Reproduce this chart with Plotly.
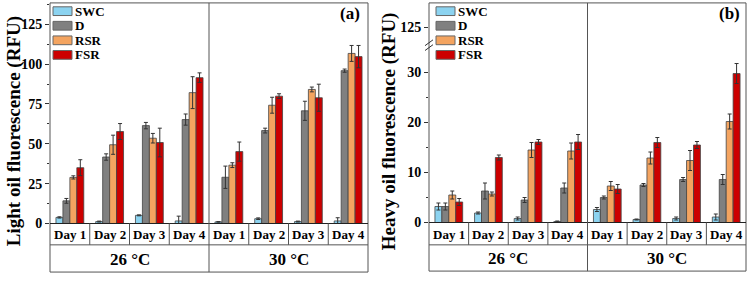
import plotly.graph_objects as go

W, H = 749, 282

# ---------------- data ----------------
temps = ["26 °C", "30 °C"]
days = ["Day 1", "Day 2", "Day 3", "Day 4"]
series = ["SWC", "D", "RSR", "FSR"]
colors = ["#8CD3F0", "#808080", "#F4A460", "#CC0000"]

# Light oil (a): 8 groups = 4 days @26 °C then 4 days @30 °C
light_swc = [3.8, 1.2, 5.1, 1.6, 1.0, 3.0, 1.2, 1.6]
light_d = [14.2, 41.7, 61.4, 65.2, 29.0, 58.3, 70.7, 95.9]
light_rsr = [28.9, 49.4, 53.5, 82.1, 36.6, 74.2, 84.1, 106.7]
light_fsr = [35.0, 57.7, 50.8, 91.5, 45.1, 79.9, 78.9, 104.7]
light_swc_err = [0.4, 0.3, 0.3, 3.0, 0.2, 0.5, 0.3, 2.0]
light_d_err = [1.5, 2.0, 2.0, 3.5, 7.0, 1.5, 6.0, 1.0]
light_rsr_err = [1.0, 6.0, 3.0, 10.0, 1.5, 5.0, 1.5, 5.0]
light_fsr_err = [5.0, 5.0, 9.0, 3.0, 6.0, 1.5, 8.5, 7.0]

# Heavy oil (b)
heavy_swc = [3.2, 1.9, 0.8, 0.2, 2.6, 0.6, 0.8, 1.1]
heavy_d = [3.2, 6.3, 4.5, 6.9, 5.0, 7.5, 8.6, 8.6]
heavy_rsr = [5.5, 5.7, 14.5, 14.3, 7.3, 12.9, 12.4, 20.2]
heavy_fsr = [4.1, 13.0, 16.1, 16.1, 6.7, 16.0, 15.5, 29.8]
heavy_swc_err = [0.7, 0.2, 0.3, 0.1, 0.4, 0.1, 0.3, 0.6]
heavy_d_err = [0.7, 1.6, 0.5, 1.0, 0.3, 0.3, 0.4, 1.0]
heavy_rsr_err = [0.8, 0.4, 1.5, 1.6, 0.9, 1.2, 2.0, 1.5]
heavy_fsr_err = [0.7, 0.5, 0.5, 1.5, 0.9, 1.0, 0.7, 2.0]

light_ticks = [0, 25, 50, 75, 100, 125]
heavy_ticks = [0, 10, 20, 30]
heavy_upper_ticks = [125]

FONT = "Liberation Serif"

def px(x):
    return x / W

def py(y):
    return 1 - y / H

groups = [(t, d) for t in temps for d in days]
xs = list(range(len(groups)))

fig = go.Figure()

light = [(light_swc, light_swc_err), (light_d, light_d_err),
         (light_rsr, light_rsr_err), (light_fsr, light_fsr_err)]
heavy = [(heavy_swc, heavy_swc_err), (heavy_d, heavy_d_err),
         (heavy_rsr, heavy_rsr_err), (heavy_fsr, heavy_fsr_err)]

for (vals, errs), name, col in zip(light, series, colors):
    fig.add_trace(go.Bar(
        x=xs, y=vals, name=name, marker=dict(color=col, line=dict(color="#444", width=0.8)),
        error_y=dict(type="data", array=errs, color="#333", thickness=1, width=2),
        xaxis="x", yaxis="y", offsetgroup=name, showlegend=False))

for (vals, errs), name, col in zip(heavy, series, colors):
    fig.add_trace(go.Bar(
        x=xs, y=vals, name=name, marker=dict(color=col, line=dict(color="#444", width=0.8)),
        error_y=dict(type="data", array=errs, color="#333", thickness=1, width=2),
        xaxis="x2", yaxis="y2", offsetgroup=name, showlegend=False))

# invisible trace so the upper (broken) segment axis is drawn
fig.add_trace(go.Scatter(x=[0], y=[125], mode="markers", marker=dict(opacity=0),
                         xaxis="x2", yaxis="y3", showlegend=False, hoverinfo="skip"))

tickfont = dict(family=FONT, size=14, color="black", weight="bold")
common_x = dict(range=[-0.5, 7.5], showticklabels=False, ticks="", showgrid=False,
                zeroline=False, showline=False)
fig.update_layout(
    width=W, height=H,
    margin=dict(l=0, r=0, t=0, b=0),
    paper_bgcolor="white", plot_bgcolor="white",
    barmode="group", bargap=0.3, bargroupgap=0,
    xaxis=dict(domain=[px(50), px(368)], anchor="y", **common_x),
    yaxis=dict(domain=[py(230), py(3)], range=[0, 138.4], tickvals=light_ticks,
               ticks="outside", ticklen=4, tickcolor="#333", tickfont=tickfont,
               showgrid=False, zeroline=False, showline=False, anchor="x",
               minor=dict(dtick=12.5, ticks="outside", ticklen=2, tickcolor="#333")),
    xaxis2=dict(domain=[px(429), px(746)], anchor="y2", **common_x),
    yaxis2=dict(domain=[py(229), py(52)], range=[0, 34.4], tickvals=heavy_ticks,
                ticks="outside", ticklen=4, tickcolor="#333", tickfont=tickfont,
                showgrid=False, zeroline=False, showline=False, anchor="x2",
                minor=dict(dtick=5, ticks="outside", ticklen=2, tickcolor="#333")),
    yaxis3=dict(domain=[py(45), py(3)], range=[121.7, 129.9], tickvals=heavy_upper_ticks,
                ticks="outside", ticklen=4, tickcolor="#333", tickfont=tickfont,
                showgrid=False, zeroline=False, showline=False, anchor="x2"),
)

shapes = []
annotations = []
LINE = dict(color="#555", width=1)

panels = [
    dict(xa="x", x0=50, x1=368, axis_y=230, row_y=252, bot=280, title="Light oil fluorescence (RFU)",
         tx=14, label="(a)", lx=362),
    dict(xa="x2", x0=429, x1=746, axis_y=229, row_y=252, bot=279, title="Heavy oil fluorescence (RFU)",
         tx=389, label="(b)", lx=742),
]

for p in panels:
    # frame
    shapes.append(dict(type="rect", xref="paper", yref="paper", x0=px(p["x0"]), x1=px(p["x1"]),
                       y0=py(p["bot"]), y1=py(3), line=LINE, layer="above"))
    shapes.append(dict(type="line", xref="paper", yref="paper", x0=px(p["x0"]), x1=px(p["x1"]),
                       y0=py(p["axis_y"]), y1=py(p["axis_y"]), line=dict(color="#222", width=1.2), layer="above"))
    shapes.append(dict(type="line", xref="paper", yref="paper", x0=px(p["x0"]), x1=px(p["x1"]),
                       y0=py(p["row_y"]), y1=py(p["row_y"]), line=LINE, layer="above"))
    # temperature divider
    shapes.append(dict(type="line", xref=p["xa"], yref="paper", x0=3.5, x1=3.5,
                       y0=py(p["bot"]), y1=py(3), line=LINE, layer="above"))
    # day dividers
    for b in [0.5, 1.5, 2.5, 4.5, 5.5, 6.5]:
        shapes.append(dict(type="line", xref=p["xa"], yref="paper", x0=b, x1=b,
                           y0=py(p["row_y"]), y1=py(p["axis_y"]), line=LINE, layer="above"))
    # day labels
    for i, (t, d) in enumerate(groups):
        annotations.append(dict(x=i, y=py((p["axis_y"] + p["row_y"]) / 2 + 0.5), xref=p["xa"], yref="paper",
                                text=d, showarrow=False, xanchor="center", yanchor="middle",
                                font=dict(family=FONT, size=13, color="black", weight="bold")))
    # temperature labels
    for j, t in enumerate(temps):
        annotations.append(dict(x=1.5 + 4 * j, y=py((p["row_y"] + p["bot"]) / 2 + 1), xref=p["xa"], yref="paper",
                                text=t, showarrow=False, xanchor="center", yanchor="middle",
                                font=dict(family=FONT, size=17, color="black", weight="bold")))
    # y title
    annotations.append(dict(x=px(p["tx"]), y=py(135), xref="paper", yref="paper", text=p["title"],
                            textangle=-90, showarrow=False, xanchor="center", yanchor="middle",
                            font=dict(family=FONT, size=19, color="black", weight="bold")))
    # panel label
    annotations.append(dict(x=px(p["lx"]), y=py(14), xref="paper", yref="paper", text=p["label"],
                            showarrow=False, xanchor="right", yanchor="middle",
                            font=dict(family=FONT, size=17, color="black", weight="bold")))
    # legend (swatch boxes + labels)
    sx0 = p["x0"] + 3 if p["xa"] == "x" else p["x0"] + 7
    for k, (name, col) in enumerate(zip(series, colors)):
        yc = 11.5 + 15 * k
        shapes.append(dict(type="rect", xref="paper", yref="paper", x0=px(sx0), x1=px(sx0 + 19),
                           y0=py(yc + 4.5), y1=py(yc - 4.5), fillcolor=col,
                           line=dict(color="#666", width=1), layer="above"))
        annotations.append(dict(x=px(sx0 + 20), y=py(yc), xref="paper", yref="paper", text=name,
                                showarrow=False, xanchor="left", yanchor="middle",
                                font=dict(family=FONT, size=13, color="black", weight="bold")))

# axis break marks on the heavy-oil panel
for yb in [44, 49]:
    shapes.append(dict(type="line", xref="paper", yref="paper", x0=px(425), x1=px(433),
                       y0=py(yb + 3), y1=py(yb - 3), line=dict(color="#333", width=1), layer="above"))

fig.update_layout(shapes=shapes, annotations=annotations)

post = """
var de=document.documentElement, b=document.body;
de.style.margin='0'; de.style.padding='0'; de.style.overflow='hidden';
b.style.margin='0'; b.style.padding='0'; b.style.overflow='hidden';
"""
fig.write_html("out.html", config={"displayModeBar": False}, post_script=post)
